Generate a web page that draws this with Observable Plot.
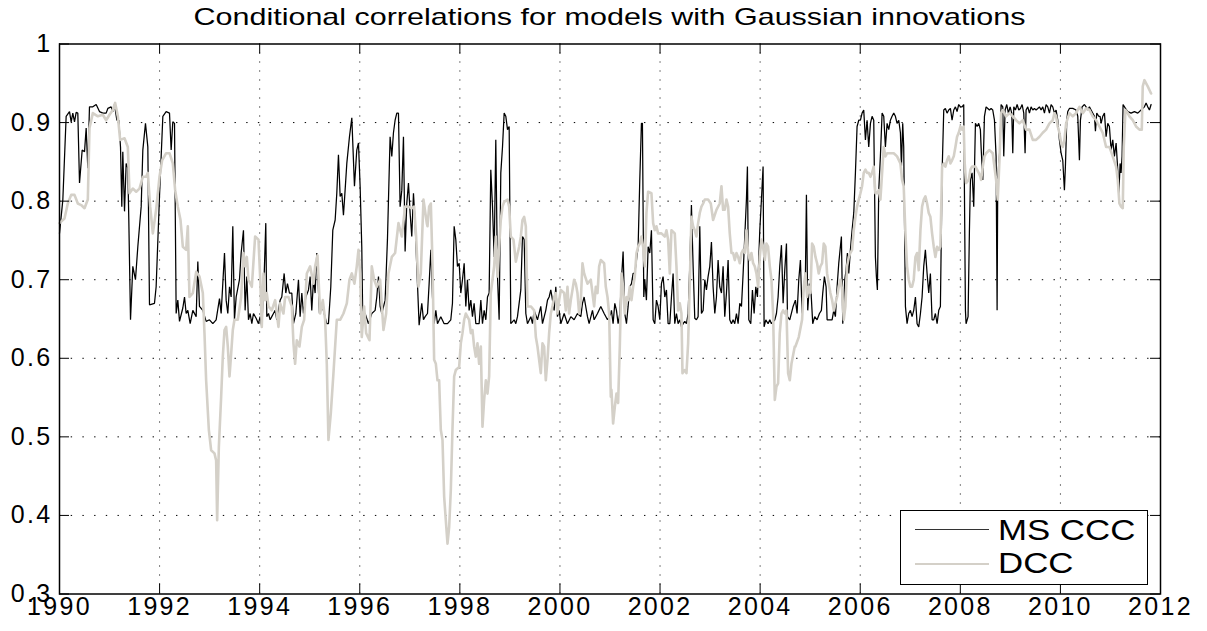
<!DOCTYPE html>
<html>
<head>
<meta charset="utf-8">
<script src="https://cdn.jsdelivr.net/npm/d3@7"></script>
<script src="https://cdn.jsdelivr.net/npm/@observablehq/plot@0.6"></script>
<style>
  html, body { margin: 0; padding: 0; background: #fff; }
  #chart { position: relative; width: 1207px; height: 631px; font-family: "Liberation Sans", Arial, sans-serif; color: #000; }
  #title { position: absolute; left: 6px; top: 5.4px; width: 1207px; text-align: center; font-size: 24px; line-height: 24px; transform: scaleX(1.27); transform-origin: center; white-space: nowrap; }
  #plot { position: absolute; left: 0; top: 34px; }
  #legend { position: absolute; left: 900px; top: 510px; width: 248px; height: 75px; box-sizing: border-box; border: 1.3px solid #000; background: #fff; }
  .lg-line { position: absolute; left: 13.7px; width: 74px; height: 0; }
  .lg-text { position: absolute; left: 96.7px; font-size: 29px; line-height: 29px; transform: scaleX(1.2); transform-origin: left; white-space: nowrap; }
</style>
</head>
<body>
<div id="chart">
  <div id="title">Conditional correlations for models with Gaussian innovations</div>
  <div id="plot"></div>
  <div id="legend">
    <div class="lg-line" style="top:18.2px;border-top:1.3px solid #333;"></div>
    <div class="lg-text" style="top:4.9px;">MS CCC</div>
    <div class="lg-line" style="top:51.6px;border-top:2.4px solid #d4d0c8;"></div>
    <div class="lg-text" style="top:38.2px;">DCC</div>
  </div>
</div>
<script>
// ---- Axis ticks ----
const xTicks = [1990, 1992, 1994, 1996, 1998, 2000, 2002, 2004, 2006, 2008, 2010, 2012];
const yTicks = [0.3, 0.4, 0.5, 0.6, 0.7, 0.8, 0.9, 1.0];
const xGrid = [1992, 1994, 1996, 1998, 2000, 2002, 2004, 2006, 2008, 2010];
const yGrid = [0.4, 0.5, 0.6, 0.7, 0.8, 0.9];

// ---- MS CCC (black) [decimal year, correlation] ----
const msccc1990s = [[1990.000,0.759],[1990.067,0.802],[1990.133,0.908],[1990.200,0.914],[1990.233,0.901],[1990.266,0.912],[1990.300,0.901],[1990.333,0.913],[1990.366,0.912],[1990.400,0.823],[1990.453,0.865],[1990.500,0.863],[1990.533,0.893],[1990.566,0.842],[1990.599,0.920],[1990.666,0.920],[1990.733,0.923],[1990.799,0.914],[1990.866,0.912],[1990.932,0.912],[1990.966,0.918],[1991.032,0.920],[1991.066,0.914],[1991.099,0.923],[1991.146,0.903],[1991.185,0.903],[1991.219,0.869],[1991.245,0.793],[1991.265,0.863],[1991.299,0.787],[1991.332,0.848],[1991.365,0.842],[1991.385,0.776],[1991.419,0.649],[1991.465,0.717],[1991.518,0.700],[1991.565,0.742],[1991.632,0.793],[1991.665,0.865],[1991.718,0.899],[1991.765,0.869],[1991.798,0.668],[1991.898,0.670],[1991.931,0.691],[1991.998,0.806],[1992.065,0.908],[1992.131,0.914],[1992.198,0.912],[1992.231,0.865],[1992.264,0.901],[1992.298,0.899],[1992.331,0.657],[1992.364,0.674],[1992.398,0.647],[1992.464,0.664],[1992.498,0.678],[1992.531,0.657],[1992.564,0.661],[1992.611,0.644],[1992.664,0.661],[1992.731,0.653],[1992.764,0.723],[1992.797,0.666],[1992.864,0.661],[1992.930,0.647],[1992.997,0.649],[1993.064,0.644],[1993.130,0.649],[1993.197,0.676],[1993.230,0.657],[1993.263,0.695],[1993.297,0.734],[1993.330,0.674],[1993.363,0.657],[1993.397,0.691],[1993.430,0.678],[1993.463,0.768],[1993.496,0.649],[1993.530,0.678],[1993.596,0.700],[1993.630,0.734],
[1993.676,0.763],[1993.709,0.661],[1993.743,0.704],[1993.776,0.649],[1993.809,0.657],[1993.843,0.644],[1993.876,0.657],[1993.929,0.651],[1993.976,0.644],[1994.009,0.653],[1994.042,0.640],[1994.089,0.704],[1994.122,0.772],[1994.142,0.653],[1994.176,0.657],[1994.209,0.649],[1994.242,0.653],[1994.275,0.657],[1994.309,0.661],[1994.342,0.649],[1994.409,0.674],[1994.442,0.678],[1994.489,0.708],[1994.522,0.683],[1994.555,0.695],[1994.595,0.683],[1994.642,0.683],[1994.675,0.644],[1994.722,0.657],[1994.775,0.700],[1994.808,0.653],[1994.842,0.683],[1994.875,0.657],[1994.922,0.678],[1994.975,0.687],[1995.008,0.704],[1995.041,0.661],[1995.075,0.700],[1995.108,0.683],[1995.141,0.734],[1995.195,0.657],[1995.241,0.670],[1995.288,0.657],[1995.341,0.644],[1995.374,0.644],[1995.421,0.691],[1995.461,0.763],[1995.508,0.776],[1995.541,0.810],[1995.574,0.859],[1995.608,0.806],[1995.641,0.810],[1995.674,0.782],[1995.707,0.814],[1995.741,0.848],[1995.794,0.882],[1995.841,0.906],[1995.894,0.819],[1995.940,0.865],[1995.974,0.874],[1996.007,0.819],[1996.040,0.742],[1996.060,0.649],[1996.107,0.657],[1996.174,0.644],[1996.240,0.657],[1996.307,0.661],[1996.340,0.678],[1996.374,0.704],[1996.407,0.666],[1996.440,0.657],[1996.507,0.674],[1996.553,0.751],[1996.606,0.882],[1996.640,0.857],[1996.673,0.887],[1996.706,0.903],[1996.740,0.912],[1996.773,0.912],[1996.806,0.793],[1996.840,0.814],[1996.873,0.882],[1996.906,0.736],[1996.939,0.797],[1996.973,0.823],[1997.006,0.785],[1997.039,0.755],[1997.073,0.810],[1997.106,0.772],[1997.139,0.717],[1997.186,0.642],[1997.239,0.670],[1997.273,0.649],[1997.306,0.653]];

const msccc2000s = [[1997.353,0.657],[1997.386,0.695],[1997.420,0.738],[1997.453,0.678],[1997.486,0.644],[1997.520,0.661],[1997.553,0.644],[1997.619,0.653],[1997.686,0.644],[1997.753,0.644],[1997.819,0.649],[1997.852,0.670],[1997.886,0.768],[1997.919,0.751],[1997.952,0.717],[1997.986,0.721],[1998.019,0.683],[1998.052,0.700],[1998.086,0.721],[1998.119,0.666],[1998.152,0.700],[1998.185,0.661],[1998.219,0.674],[1998.252,0.653],[1998.285,0.670],[1998.319,0.644],[1998.385,0.644],[1998.419,0.674],[1998.452,0.644],[1998.485,0.661],[1998.519,0.649],[1998.552,0.678],[1998.585,0.683],[1998.618,0.840],[1998.652,0.793],[1998.685,0.729],[1998.718,0.878],[1998.752,0.704],[1998.785,0.649],[1998.818,0.836],[1998.852,0.869],[1998.885,0.912],[1998.918,0.908],[1998.952,0.891],[1998.985,0.895],[1999.018,0.644],[1999.085,0.649],[1999.118,0.644],[1999.151,0.653],[1999.218,0.687],[1999.251,0.755],[1999.285,0.751],[1999.318,0.657],[1999.351,0.644],[1999.418,0.653],[1999.451,0.644],[1999.484,0.661],[1999.551,0.649],[1999.617,0.666],[1999.651,0.644],[1999.717,0.661],[1999.751,0.674],[1999.784,0.678],[1999.817,0.687],[1999.851,0.674],[1999.884,0.661],[1999.917,0.691],[1999.950,0.653],[1999.984,0.661],[2000.017,0.644],[2000.084,0.657],[2000.150,0.644],[2000.217,0.653],[2000.283,0.649],[2000.350,0.657],[2000.417,0.653],[2000.450,0.670],[2000.483,0.678],[2000.550,0.653],[2000.583,0.644],[2000.650,0.661],[2000.683,0.649],[2000.750,0.657],[2000.816,0.666],[2000.883,0.657],[2000.950,0.649],[2001.016,0.657],
[2001.029,0.661],[2001.062,0.644],[2001.096,0.670],[2001.129,0.661],[2001.162,0.644],[2001.196,0.657],[2001.229,0.700],[2001.262,0.736],[2001.295,0.657],[2001.329,0.644],[2001.362,0.666],[2001.395,0.691],[2001.429,0.695],[2001.462,0.708],[2001.495,0.708],[2001.529,0.725],[2001.562,0.742],[2001.595,0.827],[2001.628,0.899],[2001.648,0.899],[2001.675,0.678],[2001.695,0.700],[2001.728,0.674],[2001.762,0.742],[2001.795,0.734],[2001.828,0.763],[2001.862,0.649],[2001.895,0.644],[2001.928,0.674],[2001.961,0.666],[2001.995,0.649],[2002.028,0.695],[2002.061,0.704],[2002.095,0.678],[2002.128,0.687],[2002.161,0.644],[2002.195,0.644],[2002.228,0.678],[2002.261,0.708],[2002.294,0.644],[2002.328,0.657],[2002.361,0.644],[2002.394,0.649],[2002.428,0.640],[2002.461,0.644],[2002.494,0.647],[2002.528,0.644],[2002.561,0.657],[2002.594,0.717],[2002.627,0.795],[2002.661,0.717],[2002.694,0.651],[2002.727,0.649],[2002.761,0.653],[2002.794,0.768],[2002.827,0.657],[2002.861,0.661],[2002.894,0.700],[2002.927,0.687],[2002.960,0.704],[2002.994,0.717],[2003.027,0.748],[2003.060,0.691],[2003.094,0.657],[2003.127,0.678],[2003.160,0.725],[2003.193,0.691],[2003.227,0.683],[2003.260,0.717],[2003.293,0.653],[2003.327,0.683],[2003.360,0.725],[2003.393,0.649],[2003.427,0.644],[2003.460,0.649],[2003.493,0.644],[2003.527,0.657],[2003.560,0.644],[2003.593,0.670],[2003.627,0.666],[2003.660,0.708],[2003.693,0.755],[2003.726,0.802],[2003.746,0.844],[2003.773,0.649],[2003.813,0.644],[2003.846,0.687],[2003.880,0.657],[2003.913,0.691],[2003.946,0.678],[2003.993,0.763],[2004.026,0.802],[2004.059,0.844],[2004.079,0.640],[2004.113,0.649],[2004.159,0.644],[2004.193,0.649],[2004.226,0.644],[2004.293,0.649],[2004.326,0.657],[2004.359,0.678],[2004.392,0.717],[2004.426,0.744],[2004.459,0.670],[2004.492,0.712],[2004.526,0.746],[2004.546,0.653],[2004.592,0.649],[2004.659,0.666]];

const msccc2010s = [[2004.705,0.674],[2004.738,0.657],[2004.772,0.700],[2004.805,0.725],[2004.838,0.657],[2004.872,0.691],[2004.905,0.708],[2004.925,0.808],[2004.951,0.661],[2004.985,0.695],[2005.018,0.683],[2005.051,0.644],[2005.091,0.653],[2005.138,0.649],[2005.185,0.657],[2005.224,0.661],[2005.251,0.683],[2005.284,0.704],[2005.318,0.691],[2005.338,0.649],[2005.371,0.649],[2005.438,0.649],[2005.471,0.661],[2005.504,0.653],[2005.538,0.691],[2005.571,0.721],[2005.624,0.755],[2005.651,0.644],[2005.691,0.700],[2005.717,0.712],[2005.744,0.734],[2005.771,0.708],[2005.804,0.738],[2005.837,0.763],[2005.871,0.785],[2005.904,0.836],[2005.937,0.895],[2005.971,0.903],[2006.004,0.903],[2006.037,0.912],[2006.070,0.916],[2006.104,0.878],[2006.137,0.903],[2006.170,0.869],[2006.204,0.899],[2006.237,0.908],[2006.270,0.903],[2006.303,0.729],[2006.323,0.704],[2006.343,0.687],[2006.370,0.814],[2006.403,0.857],[2006.437,0.912],[2006.470,0.908],[2006.503,0.869],[2006.537,0.899],[2006.570,0.891],[2006.603,0.903],[2006.636,0.908],[2006.670,0.912],[2006.703,0.908],[2006.736,0.899],[2006.770,0.903],[2006.803,0.887],[2006.823,0.844],[2006.849,0.899],[2006.869,0.869],[2006.903,0.666],[2006.936,0.644],[2006.969,0.657],[2007.003,0.661],[2007.036,0.653],[2007.069,0.661],[2007.103,0.678],[2007.136,0.644],[2007.169,0.640],[2007.203,0.657],[2007.236,0.678],[2007.269,0.717],[2007.302,0.738],[2007.336,0.708],[2007.369,0.683],[2007.402,0.708],[2007.436,0.649],[2007.469,0.649],[2007.502,0.657],[2007.536,0.644],[2007.569,0.661],[2007.602,0.666],[2007.636,0.836],[2007.669,0.916],[2007.702,0.918],[2007.735,0.912],[2007.769,0.916],[2007.802,0.918],[2007.835,0.903],[2007.869,0.916],[2007.902,0.920],[2007.935,0.914],[2007.968,0.923],[2008.002,0.920],[2008.035,0.920],[2008.068,0.923],[2008.088,0.768],[2008.102,0.661],[2008.115,0.644],[2008.155,0.653],[2008.182,0.763],[2008.202,0.827],[2008.235,0.836],[2008.268,0.793],[2008.302,0.899],[2008.335,0.895],[2008.368,0.899],[2008.401,0.891],
[2008.415,0.869],[2008.449,0.827],[2008.482,0.908],[2008.515,0.920],[2008.549,0.918],[2008.582,0.916],[2008.615,0.918],[2008.648,0.916],[2008.682,0.903],[2008.715,0.857],[2008.735,0.661],[2008.748,0.827],[2008.768,0.848],[2008.795,0.869],[2008.815,0.923],[2008.848,0.920],[2008.868,0.857],[2008.895,0.916],[2008.928,0.923],[2008.961,0.912],[2008.995,0.920],[2009.028,0.912],[2009.048,0.861],[2009.068,0.920],[2009.101,0.916],[2009.135,0.923],[2009.168,0.916],[2009.201,0.918],[2009.235,0.923],[2009.268,0.912],[2009.294,0.861],[2009.314,0.916],[2009.348,0.920],[2009.381,0.912],[2009.414,0.920],[2009.448,0.916],[2009.481,0.918],[2009.514,0.916],[2009.548,0.918],[2009.581,0.920],[2009.614,0.916],[2009.647,0.920],[2009.681,0.912],[2009.714,0.923],[2009.747,0.920],[2009.781,0.912],[2009.814,0.923],[2009.847,0.920],[2009.881,0.912],[2009.914,0.916],[2009.947,0.903],[2009.980,0.878],[2010.014,0.861],[2010.047,0.852],[2010.080,0.814],[2010.100,0.844],[2010.127,0.903],[2010.147,0.914],[2010.180,0.918],[2010.247,0.918],[2010.313,0.916],[2010.347,0.908],[2010.380,0.852],[2010.400,0.903],[2010.433,0.920],[2010.480,0.923],[2010.513,0.920],[2010.546,0.916],[2010.580,0.920],[2010.613,0.916],[2010.646,0.912],[2010.680,0.908],[2010.700,0.889],[2010.726,0.912],[2010.766,0.908],[2010.793,0.908],[2010.813,0.899],[2010.846,0.908],[2010.880,0.912],[2010.913,0.882],[2010.946,0.899],[2010.979,0.895],[2011.013,0.865],[2011.046,0.878],[2011.079,0.857],[2011.113,0.874],[2011.146,0.840],[2011.166,0.806],[2011.193,0.848],[2011.212,0.836],[2011.232,0.857],[2011.252,0.923],[2011.299,0.918],[2011.346,0.914],[2011.412,0.912],[2011.479,0.914],[2011.546,0.912],[2011.612,0.916],[2011.679,0.920],[2011.712,0.925],[2011.745,0.920],[2011.779,0.916],[2011.812,0.923]];

// ---- DCC (light grey) [decimal year, correlation] ----
const dcc1990s = [[1990.000,0.772],[1990.100,0.778],[1990.166,0.797],[1990.233,0.808],[1990.300,0.808],[1990.366,0.797],[1990.433,0.795],[1990.500,0.791],[1990.566,0.802],[1990.599,0.893],[1990.666,0.912],[1990.766,0.908],[1990.866,0.910],[1990.932,0.903],[1990.999,0.910],[1991.066,0.916],[1991.112,0.925],[1991.166,0.908],[1991.212,0.878],[1991.299,0.880],[1991.365,0.869],[1991.399,0.810],[1991.465,0.816],[1991.532,0.812],[1991.598,0.816],[1991.665,0.831],[1991.732,0.831],[1991.765,0.836],[1991.812,0.793],[1991.865,0.759],[1991.931,0.789],[1991.998,0.831],[1992.051,0.852],[1992.131,0.861],[1992.198,0.861],[1992.264,0.848],[1992.311,0.814],[1992.364,0.793],[1992.418,0.776],[1992.464,0.742],[1992.531,0.738],[1992.564,0.768],[1992.597,0.678],[1992.664,0.683],[1992.731,0.710],[1992.797,0.704],[1992.864,0.683],[1992.897,0.632],[1992.930,0.572],[1992.984,0.509],[1993.030,0.483],[1993.097,0.479],[1993.130,0.470],[1993.150,0.394],[1993.184,0.487],[1993.230,0.551],[1993.263,0.602],[1993.297,0.636],[1993.330,0.640],[1993.363,0.615],[1993.397,0.577],[1993.430,0.606],[1993.463,0.636],[1993.496,0.649],[1993.563,0.649],[1993.630,0.678],
[1993.676,0.734],[1993.709,0.717],[1993.743,0.729],[1993.776,0.700],[1993.843,0.691],[1993.909,0.755],[1993.976,0.751],[1994.009,0.704],[1994.042,0.640],[1994.076,0.708],[1994.109,0.674],[1994.142,0.683],[1994.176,0.666],[1994.242,0.661],[1994.309,0.674],[1994.375,0.640],[1994.409,0.670],[1994.475,0.657],[1994.509,0.678],[1994.575,0.678],[1994.642,0.666],[1994.675,0.619],[1994.708,0.593],[1994.742,0.623],[1994.795,0.615],[1994.842,0.640],[1994.888,0.649],[1994.942,0.708],[1995.008,0.717],[1995.075,0.695],[1995.108,0.717],[1995.155,0.731],[1995.208,0.657],[1995.261,0.674],[1995.308,0.649],[1995.341,0.593],[1995.374,0.496],[1995.421,0.530],[1995.474,0.581],[1995.541,0.649],[1995.608,0.649],[1995.674,0.657],[1995.741,0.670],[1995.794,0.700],[1995.841,0.708],[1995.894,0.695],[1995.940,0.717],[1995.974,0.738],[1996.007,0.708],[1996.040,0.627],[1996.087,0.666],[1996.127,0.632],[1996.194,0.623],[1996.240,0.717],[1996.287,0.700],[1996.340,0.691],[1996.407,0.700],[1996.473,0.636],[1996.527,0.657],[1996.573,0.708],[1996.640,0.729],[1996.706,0.734],[1996.773,0.772],[1996.840,0.755],[1996.906,0.793],[1996.973,0.793],[1997.039,0.791],[1997.086,0.793],[1997.126,0.755],[1997.173,0.691],[1997.219,0.708],[1997.273,0.802],[1997.339,0.772]];

const dcc2000s = [[1997.353,0.768],[1997.386,0.793],[1997.420,0.797],[1997.453,0.721],[1997.486,0.598],[1997.520,0.593],[1997.553,0.572],[1997.586,0.572],[1997.619,0.509],[1997.653,0.496],[1997.686,0.424],[1997.719,0.394],[1997.753,0.364],[1997.786,0.385],[1997.819,0.432],[1997.852,0.509],[1997.886,0.577],[1997.919,0.585],[1997.986,0.589],[1998.019,0.619],[1998.052,0.632],[1998.086,0.649],[1998.119,0.657],[1998.185,0.649],[1998.219,0.632],[1998.252,0.636],[1998.285,0.615],[1998.319,0.602],[1998.352,0.619],[1998.385,0.593],[1998.419,0.615],[1998.452,0.513],[1998.485,0.547],[1998.519,0.572],[1998.552,0.555],[1998.585,0.577],[1998.618,0.683],[1998.652,0.700],[1998.685,0.717],[1998.718,0.755],[1998.752,0.704],[1998.785,0.742],[1998.818,0.776],[1998.852,0.793],[1998.885,0.799],[1998.952,0.802],[1998.985,0.793],[1999.018,0.755],[1999.071,0.751],[1999.118,0.723],[1999.185,0.742],[1999.218,0.755],[1999.251,0.776],[1999.285,0.780],[1999.318,0.768],[1999.351,0.666],[1999.418,0.666],[1999.484,0.661],[1999.518,0.627],[1999.551,0.615],[1999.617,0.581],[1999.651,0.619],[1999.684,0.615],[1999.717,0.572],[1999.751,0.598],[1999.784,0.632],[1999.817,0.657],[1999.851,0.666],[1999.884,0.678],[1999.917,0.683],[1999.950,0.657],[1999.984,0.674],[2000.017,0.687],[2000.084,0.683],[2000.117,0.661],[2000.150,0.691],[2000.183,0.657],[2000.217,0.674],[2000.283,0.700],[2000.317,0.695],[2000.350,0.683],[2000.383,0.657],[2000.417,0.674],[2000.450,0.721],[2000.483,0.708],[2000.550,0.695],[2000.616,0.700],[2000.683,0.666],[2000.716,0.691],[2000.750,0.683],[2000.783,0.717],[2000.816,0.725],[2000.883,0.721],[2000.916,0.691],[2000.950,0.678],[2000.983,0.657],[2001.016,0.551],
[2001.029,0.560],[2001.062,0.517],[2001.096,0.538],[2001.129,0.555],[2001.162,0.543],[2001.196,0.615],[2001.229,0.708],[2001.262,0.691],[2001.295,0.657],[2001.329,0.678],[2001.362,0.674],[2001.395,0.691],[2001.429,0.674],[2001.462,0.691],[2001.495,0.704],[2001.529,0.734],[2001.562,0.742],[2001.595,0.746],[2001.628,0.755],[2001.662,0.742],[2001.695,0.717],[2001.728,0.785],[2001.762,0.812],[2001.828,0.810],[2001.862,0.772],[2001.895,0.763],[2001.928,0.768],[2001.961,0.759],[2002.028,0.759],[2002.095,0.755],[2002.128,0.763],[2002.161,0.751],[2002.195,0.708],[2002.228,0.763],[2002.294,0.759],[2002.328,0.717],[2002.361,0.661],[2002.394,0.670],[2002.428,0.657],[2002.448,0.581],[2002.494,0.585],[2002.528,0.581],[2002.561,0.619],[2002.594,0.695],[2002.627,0.780],[2002.661,0.768],[2002.694,0.763],[2002.727,0.755],[2002.761,0.772],[2002.794,0.785],[2002.827,0.793],[2002.861,0.797],[2002.894,0.802],[2002.960,0.802],[2003.014,0.797],[2003.060,0.776],[2003.127,0.789],[2003.193,0.797],[2003.227,0.819],[2003.260,0.789],[2003.293,0.789],[2003.327,0.802],[2003.360,0.793],[2003.393,0.759],[2003.427,0.734],[2003.460,0.734],[2003.493,0.725],[2003.527,0.734],[2003.560,0.729],[2003.593,0.721],[2003.627,0.734],[2003.660,0.738],[2003.693,0.734],[2003.726,0.763],[2003.760,0.734],[2003.793,0.725],[2003.826,0.734],[2003.860,0.721],[2003.893,0.717],[2003.926,0.708],[2003.960,0.691],[2003.993,0.729],[2004.026,0.751],[2004.059,0.742],[2004.093,0.725],[2004.126,0.746],[2004.159,0.742],[2004.193,0.717],[2004.226,0.700],[2004.259,0.657],[2004.293,0.547],[2004.326,0.564],[2004.359,0.568],[2004.392,0.632],[2004.426,0.657],[2004.459,0.661],[2004.492,0.657],[2004.526,0.661],[2004.559,0.581],[2004.592,0.572],[2004.626,0.593],[2004.692,0.615]];

const dcc2010s = [[2004.705,0.615],[2004.772,0.627],[2004.838,0.649],[2004.872,0.691],[2004.905,0.708],[2004.938,0.678],[2004.971,0.691],[2005.005,0.683],[2005.038,0.746],[2005.071,0.742],[2005.105,0.729],[2005.138,0.721],[2005.171,0.708],[2005.204,0.717],[2005.238,0.721],[2005.271,0.746],[2005.304,0.742],[2005.338,0.708],[2005.371,0.695],[2005.404,0.683],[2005.438,0.674],[2005.471,0.661],[2005.504,0.670],[2005.538,0.678],[2005.571,0.691],[2005.604,0.700],[2005.638,0.687],[2005.671,0.649],[2005.704,0.666],[2005.737,0.717],[2005.771,0.729],[2005.804,0.734],[2005.837,0.738],[2005.871,0.763],[2005.904,0.780],[2005.937,0.793],[2005.971,0.802],[2006.004,0.810],[2006.037,0.819],[2006.070,0.836],[2006.104,0.840],[2006.137,0.836],[2006.170,0.836],[2006.204,0.831],[2006.237,0.836],[2006.270,0.844],[2006.303,0.810],[2006.337,0.810],[2006.370,0.814],[2006.403,0.802],[2006.437,0.836],[2006.470,0.869],[2006.503,0.857],[2006.537,0.861],[2006.603,0.861],[2006.670,0.861],[2006.736,0.857],[2006.803,0.848],[2006.836,0.827],[2006.869,0.819],[2006.903,0.759],[2006.936,0.717],[2006.969,0.700],[2007.003,0.691],[2007.036,0.691],[2007.069,0.700],[2007.103,0.729],[2007.136,0.734],[2007.169,0.712],[2007.203,0.763],[2007.236,0.793],[2007.269,0.802],[2007.302,0.806],[2007.336,0.797],[2007.369,0.785],[2007.402,0.780],[2007.436,0.759],[2007.469,0.742],[2007.502,0.729],[2007.536,0.742],[2007.569,0.738],[2007.602,0.742],[2007.636,0.844],[2007.669,0.848],[2007.702,0.844],[2007.735,0.852],[2007.769,0.857],[2007.802,0.848],[2007.835,0.852],[2007.869,0.857],[2007.902,0.869],[2007.935,0.882],[2007.968,0.887],[2008.002,0.895],[2008.035,0.891],[2008.068,0.895],[2008.088,0.848],[2008.115,0.823],[2008.168,0.827],[2008.202,0.840],[2008.235,0.844],[2008.302,0.844],[2008.368,0.836],[2008.401,0.831],
[2008.415,0.827],[2008.449,0.844],[2008.482,0.857],[2008.515,0.861],[2008.582,0.865],[2008.648,0.861],[2008.715,0.827],[2008.748,0.802],[2008.782,0.852],[2008.815,0.912],[2008.848,0.916],[2008.915,0.908],[2008.982,0.912],[2009.048,0.908],[2009.115,0.903],[2009.181,0.899],[2009.248,0.903],[2009.314,0.891],[2009.381,0.891],[2009.448,0.878],[2009.514,0.878],[2009.581,0.882],[2009.647,0.887],[2009.714,0.891],[2009.781,0.899],[2009.847,0.903],[2009.881,0.912],[2009.914,0.908],[2009.947,0.895],[2009.980,0.887],[2010.014,0.874],[2010.047,0.869],[2010.080,0.878],[2010.114,0.899],[2010.180,0.912],[2010.247,0.908],[2010.313,0.912],[2010.380,0.920],[2010.447,0.912],[2010.513,0.918],[2010.580,0.916],[2010.646,0.908],[2010.713,0.903],[2010.780,0.895],[2010.846,0.887],[2010.913,0.869],[2010.979,0.869],[2011.046,0.857],[2011.113,0.844],[2011.146,0.827],[2011.179,0.797],[2011.212,0.793],[2011.246,0.791],[2011.266,0.869],[2011.299,0.916],[2011.346,0.912],[2011.379,0.908],[2011.446,0.903],[2011.512,0.895],[2011.579,0.891],[2011.626,0.891],[2011.645,0.946],[2011.679,0.954],[2011.745,0.946],[2011.812,0.937]];

const toRows = (arr) => arr.map(([year, value]) => ({year, value}));
const msccc = toRows([...msccc1990s, ...msccc2000s, ...msccc2010s]);
const dcc = toRows([...dcc1990s, ...dcc2000s, ...dcc2010s]);

const W = 1207, H = 597;
const mL = 59, mR = 47, mT = 9.5, mB = 37.5;
const frameW = W - mL - mR, frameH = H - mT - mB;
const tickLen = 10;

const chart = Plot.plot({
  width: W,
  height: H,
  marginLeft: mL,
  marginRight: mR,
  marginTop: mT,
  marginBottom: mB,
  style: {
    fontFamily: '"Liberation Sans", Arial, sans-serif',
    fontSize: "25px",
    color: "#000",
    background: "#fff",
    overflow: "visible"
  },
  x: {domain: [1990, 2012], ticks: xTicks, tickFormat: d3.format("d"), tickSize: 0, tickPadding: 3, label: null},
  y: {domain: [0.3, 1], ticks: yTicks, tickFormat: d => d === 1 ? "1" : d.toFixed(1), tickSize: 0, tickPadding: 7, label: null},
  marks: [
    Plot.ruleX(xGrid, {stroke: "#000", strokeWidth: 1, strokeDasharray: "1,8"}),
    Plot.ruleY(yGrid, {stroke: "#000", strokeWidth: 1, strokeDasharray: "1.4,10.3"}),
    Plot.line(msccc, {x: "year", y: "value", stroke: "#000", strokeWidth: 1.25, strokeLinejoin: "miter"}),
    Plot.line(dcc, {x: "year", y: "value", stroke: "#d4d0c8", strokeWidth: 2.6}),
    Plot.ruleX(xTicks, {stroke: "#000", strokeWidth: 1, insetTop: frameH - tickLen}),
    Plot.ruleX(xTicks, {stroke: "#000", strokeWidth: 1, insetBottom: frameH - tickLen}),
    Plot.ruleY(yTicks, {stroke: "#000", strokeWidth: 1, insetRight: frameW - tickLen}),
    Plot.ruleY(yTicks, {stroke: "#000", strokeWidth: 1, insetLeft: frameW - tickLen}),
    Plot.frame({stroke: "#000", strokeWidth: 1.5})
  ]
});
// Force tick-label typography (slightly widened glyph spacing like the reference)
chart.querySelectorAll("text").forEach(t => {
  t.style.fontSize = "25px";
  t.style.letterSpacing = "2.3px";
  t.style.fontFamily = '"Liberation Sans", Arial, sans-serif';
});
document.getElementById("plot").appendChild(chart);
</script>
</body>
</html>
